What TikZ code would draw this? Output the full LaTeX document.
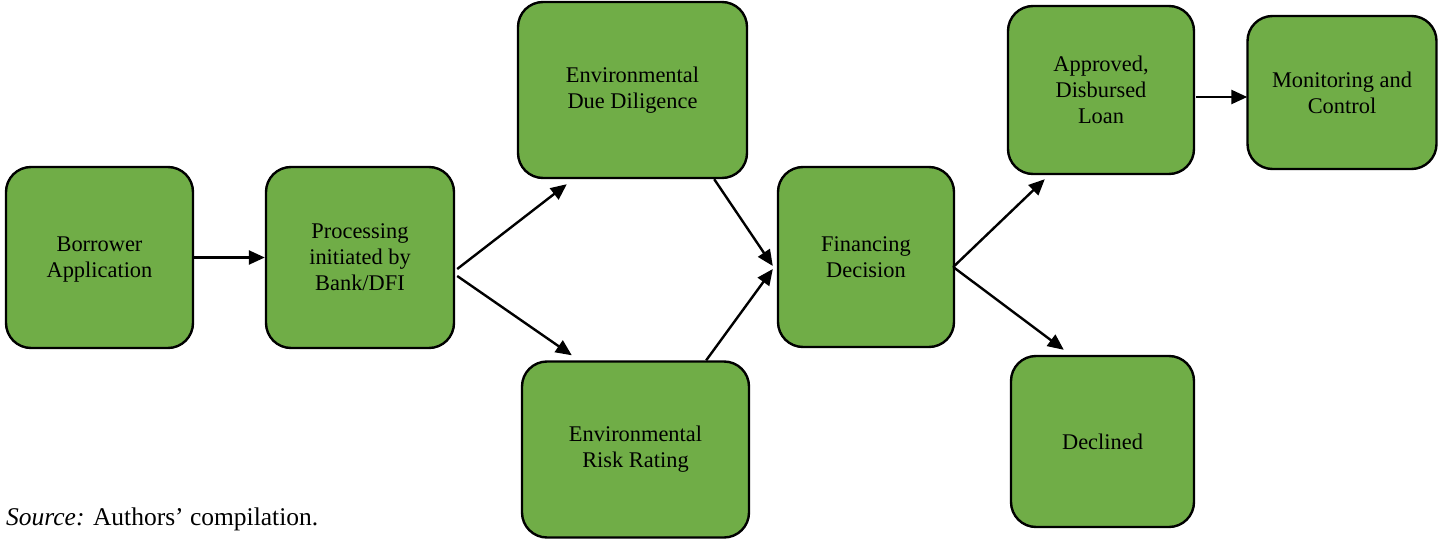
\documentclass[tikz,border=0pt]{standalone}
\usepackage{fontspec}
\setmainfont{Liberation Serif}
\usetikzlibrary{arrows.meta,calc}
\definecolor{boxgreen}{RGB}{112,173,71}
\tikzset{
  stepbox/.style={draw=black, line width=2.4pt, fill=boxgreen, rounded corners=25pt,
    align=center, inner sep=0pt, font=\fontsize{22.4}{26}\selectfont},
  arr/.style={line width=2.4pt, -{Triangle[length=16pt,width=14pt]}}
}
\begin{document}
\begin{tikzpicture}[x=1pt,y=-1pt]
\useasboundingbox (0,0) rectangle (1439,540);
\node[stepbox, minimum width=187pt, minimum height=181pt, text depth=-2pt] (bor) at (99.5,257.5) {Borrower\\Application};
\node[stepbox, minimum width=188pt, minimum height=181pt] (proc) at (360,257.5) {Processing\\initiated by\\Bank/DFI};
\node[stepbox, minimum width=229pt, minimum height=176pt] (edd) at (632.5,90) {Environmental\\Due Diligence};
\node[stepbox, minimum width=227pt, minimum height=176pt] (err) at (635.5,449.5) {Environmental\\Risk Rating};
\node[stepbox, minimum width=176pt, minimum height=180pt] (fd) at (866,257) {Financing\\Decision};
\node[stepbox, minimum width=186pt, minimum height=168pt] (app) at (1101,90) {Approved,\\Disbursed\\Loan};
\node[stepbox, minimum width=189pt, minimum height=153pt] (mon) at (1342,92.5) {Monitoring and\\Control};
\node[stepbox, minimum width=183pt, minimum height=171pt] (dec) at (1102.5,441.5) {Declined};
\node[anchor=base west, inner sep=0pt, font=\fontsize{25.5}{30}\selectfont] (src) at (6,525) {\textit{Source:} Authors’ compilation.};
\draw[arr] (bor) -- (proc);
\draw[arr] ($(proc.east)+(2,11.5)$) -- ($(edd.south west)+(50,5)$);
\draw[arr] ($(proc.east)+(2,18.5)$) -- ($(err.north west)+(51,-5)$);
\draw[arr] ($(edd.south east)+(-34,0)$) -- ($(fd.west)+(-4,9)$);
\draw[arr] ($(err.north east)+(-44,0)$) -- ($(fd.west)+(-4,12)$);
\draw[arr] ($(fd.east)+(-2,10)$) -- ($(app.south west)+(38,4)$);
\draw[arr] ($(fd.east)+(-2,10)$) -- ($(dec.north west)+(54,-5)$);
\draw[arr] ($(app.east)+(1,7)$) -- ($(mon.west)+(1,4.5)$);
\end{tikzpicture}
\end{document}
